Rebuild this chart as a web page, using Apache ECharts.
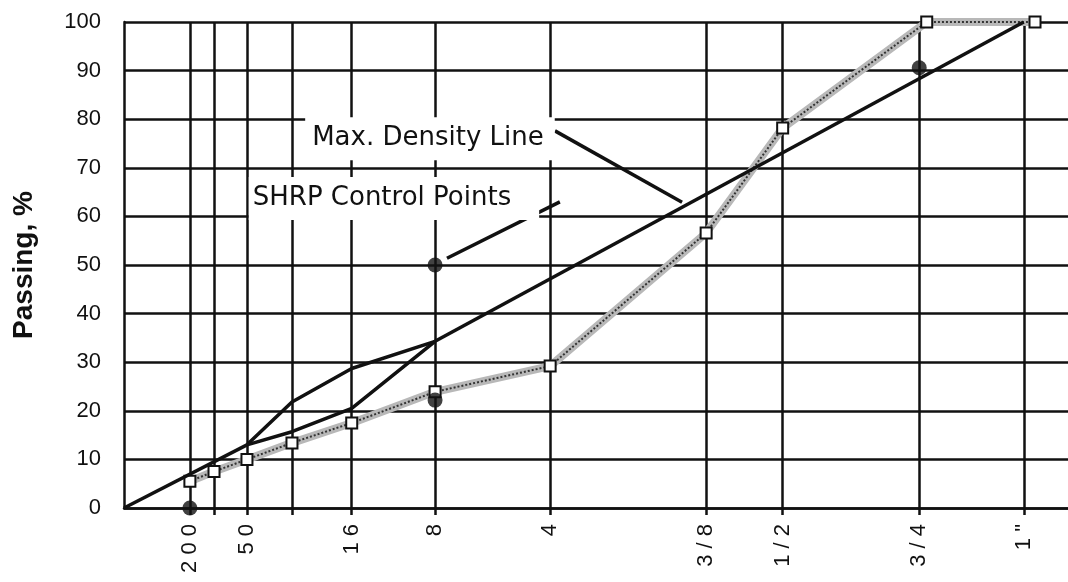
<!DOCTYPE html>
<html><head><meta charset="utf-8">
<script src="https://cdn.jsdelivr.net/npm/echarts@6/dist/echarts.min.js"></script>
<style>html,body{margin:0;padding:0;background:#fff}#c{width:1068px;height:582px}</style>
</head><body><div id="c"></div>
<script>
// ---- data (sieve sizes in mm, plotted on a 0.45-power scale) ----
const sieveNames = ['200', '100', '50', '30', '16', '8', '4', '3/8', '1/2', '3/4', '1"'];
const sieveMm = [0.075, 0.15, 0.3, 0.6, 1.18, 2.36, 4.75, 9.5, 12.5, 19, 25];
const tickLabels = ['2 0 0', '', '5 0', '', '1 6', '8', '4', '3 / 8', '1 / 2', '3 / 4', '1 "'];

const gradMm = [0.075, 0.15, 0.3, 0.6, 1.18, 2.36, 4.75, 9.5, 12.5, 19.4, 25.7];
const gradPassing = [5.5, 7.5, 10, 13.4, 17.5, 23.9, 29.2, 56.6, 78.2, 100, 100];

const maxDensLowMm = [0, 0.3];
const maxDensLow = [0, 13];
const maxDensHighMm = [2.36, 25];
const maxDensHigh = [34.3, 100];

const rzMm = [0.3, 0.6, 1.18, 2.36];
const rzUpper = [13, 21.8, 28.7, 34.3];
const rzLower = [13, 15.7, 20.5, 34.3];

const ctrlMm = [0.075, 2.36, 2.36, 19];
const ctrlPassing = [0, 22.2, 50, 90.6];

const POW = 0.45;
const px = mm => Math.pow(mm, POW);
const pairs = (xs, ys) => xs.map((m, i) => [px(m), ys[i]]);

const sieveX = sieveMm.map(px);
const labeledX = sieveX.filter((v, i) => tickLabels[i] !== '');
function labelFor(v) {
  for (let i = 0; i < sieveX.length; i++) if (Math.abs(sieveX[i] - v) < 1e-6) return tickLabels[i];
  return '';
}

const INK = '#111';
const FONT = 'Liberation Sans';
const chart = echarts.init(document.getElementById('c'), null, {renderer: 'canvas'});
chart.setOption({
  animation: false,
  backgroundColor: '#fff',
  grid: {left: 124, right: 0, top: 22, bottom: 74, containLabel: false},
  xAxis: {
    type: 'value', min: 0, max: 4.466,
    axisLine: {show: true, lineStyle: {color: INK, width: 2.5}},
    axisTick: {show: true, customValues: sieveX, length: 7, lineStyle: {color: INK, width: 2.5}},
    axisLabel: {customValues: labeledX, rotate: 90, fontSize: 22, fontFamily: FONT, color: INK, margin: 16, formatter: labelFor},
    splitLine: {show: true, lineStyle: {color: INK, width: 2.5}}
  },
  yAxis: {
    type: 'value', min: 0, max: 100, interval: 10,
    axisLine: {show: true, lineStyle: {color: INK, width: 2.5}},
    axisTick: {show: false},
    axisLabel: {fontSize: 22, fontFamily: FONT, color: INK, margin: 23},
    splitLine: {show: true, lineStyle: {color: INK, width: 2.5}},
    name: 'Passing, %', nameLocation: 'middle', nameGap: 86,
    nameTextStyle: {fontSize: 28, fontWeight: 'bold', fontFamily: FONT, color: INK}
  },
  series: [
    {type: 'line', name: 'gradation band', data: pairs(gradMm, gradPassing), symbol: 'none',
     lineStyle: {color: '#b8b8b8', width: 8}, z: 3},
    {type: 'line', name: 'gradation', data: pairs(gradMm, gradPassing), symbol: 'rect', symbolSize: 11,
     itemStyle: {color: '#fff', borderColor: INK, borderWidth: 2},
     lineStyle: {color: '#333', width: 2, type: 'dotted'}, z: 4},
    {type: 'line', name: 'max density low', data: pairs(maxDensLowMm, maxDensLow), symbol: 'none',
     lineStyle: {color: INK, width: 3.5}, z: 5},
    {type: 'line', name: 'max density high', data: pairs(maxDensHighMm, maxDensHigh), symbol: 'none',
     lineStyle: {color: INK, width: 3.5}, z: 5,
     markLine: {silent: true, symbol: ['none', 'none'], label: {show: false},
       lineStyle: {color: INK, width: 3.5, type: 'solid'},
       data: [
         [{coord: [2.039, 77.6]}, {coord: [2.640, 62.9]}],
         [{coord: [1.528, 51.4]}, {coord: [2.062, 63.0]}]
       ]},
     markPoint: {silent: true, symbol: 'rect', symbolSize: 1, itemStyle: {color: 'rgba(0,0,0,0)'},
       data: [
         {coord: [1.4475, 76.0], label: {show: true, position: 'inside', formatter: 'Max. Density Line',
           fontSize: 26, fontFamily: 'DejaVu Sans', color: INK, backgroundColor: '#fff', padding: [1, 11, 16, 7]}},
         {coord: [1.2772, 63.7], label: {show: true, position: 'inside', formatter: 'SHRP Control Points',
           fontSize: 26, fontFamily: 'DejaVu Sans', color: INK, backgroundColor: '#fff', padding: [9, 28, 8, 4]}}
       ]}},
    {type: 'line', name: 'restricted upper', data: pairs(rzMm, rzUpper), symbol: 'none',
     lineStyle: {color: INK, width: 3.5}, z: 5},
    {type: 'line', name: 'restricted lower', data: pairs(rzMm, rzLower), symbol: 'none',
     lineStyle: {color: INK, width: 3.5}, z: 5},
    {type: 'scatter', name: 'control points', data: pairs(ctrlMm, ctrlPassing), symbol: 'circle', symbolSize: 15,
     itemStyle: {color: INK}, z: 6}
  ]
});
</script>
</body></html>
